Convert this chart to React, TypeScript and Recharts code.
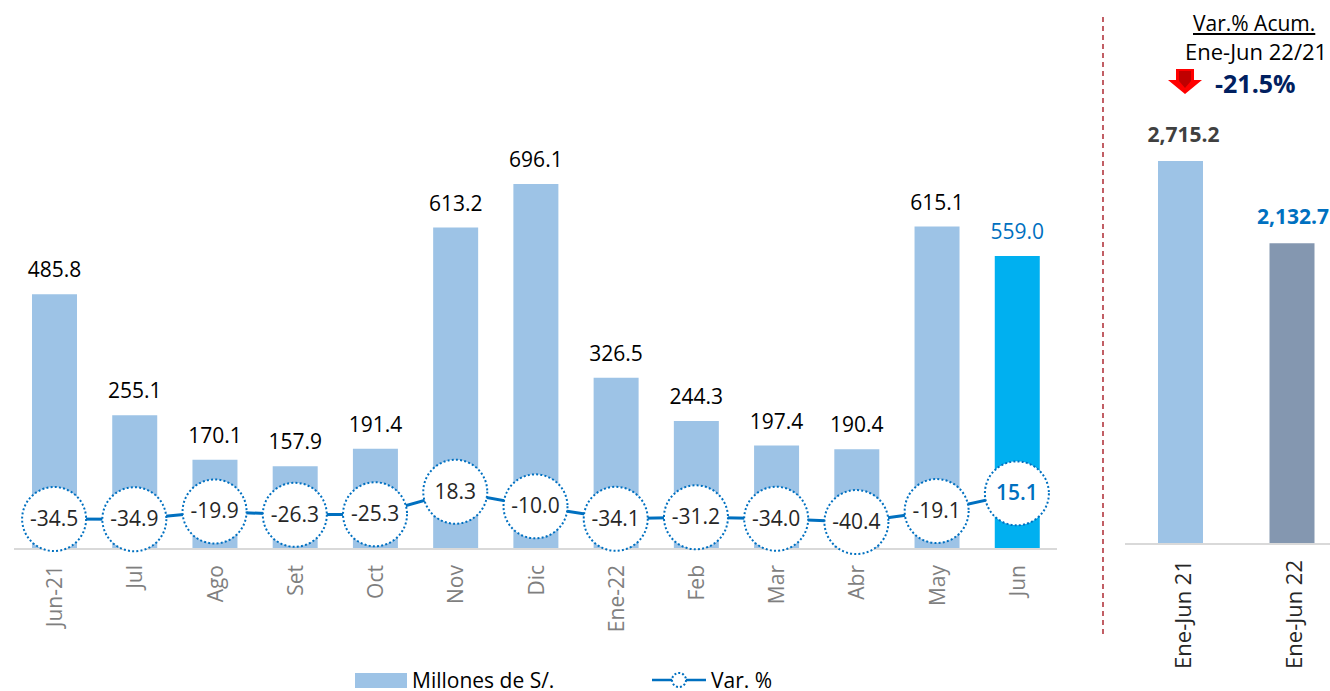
import { Bar, Cell, ComposedChart, LabelList, Legend, Line, XAxis, YAxis } from 'recharts';

const months = ['Jun-21', 'Jul', 'Ago', 'Set', 'Oct', 'Nov', 'Dic', 'Ene-22', 'Feb', 'Mar', 'Abr', 'May', 'Jun'];
const millones = [485.8, 255.1, 170.1, 157.9, 191.4, 613.2, 696.1, 326.5, 244.3, 197.4, 190.4, 615.1, 559.0];
const variacion = [-34.5, -34.9, -19.9, -26.3, -25.3, 18.3, -10.0, -34.1, -31.2, -34.0, -40.4, -19.1, 15.1];

const periodos = ['Ene-Jun 21', 'Ene-Jun 22'];
const acumulado = [2715.2, 2132.7];

const FONT = '"Open Sans", sans-serif';
const BLUE = '#0070C0';

const monthlyData = months.map((mes, i) => ({ mes, millones: millones[i], variacion: variacion[i] }));
const acumData = periodos.map((periodo, i) => ({ periodo, acumulado: acumulado[i] }));

// etiqueta vertical de los ejes
const RotatedTick = ({ x, y, payload, fill, size, shift }: any) => (
  <text
    transform={`translate(${x + shift}, ${y + 8}) rotate(-90)`}
    textAnchor="end"
    fontFamily={FONT}
    fontSize={size}
    fill={fill}
  >
    {payload.value}
  </text>
);

// punto del % con borde punteado
const DottedDot = ({ cx, cy, index }: any) => (
  <circle key={index} cx={cx} cy={cy} r={32} fill="#fff" stroke={BLUE} strokeWidth={2} strokeDasharray="2 2.2" />
);

const MonthLabel = ({ x, y, width, value, index }: any) => (
  <text
    x={x + width / 2}
    y={y - 17}
    textAnchor="middle"
    fontFamily={FONT}
    fontSize={21}
    fill={index === months.length - 1 ? BLUE : '#000'}
  >
    {Number(value).toFixed(1)}
  </text>
);

const VarLabel = ({ x, y, value, index }: any) => (
  <text
    x={x}
    y={y + 7}
    textAnchor="middle"
    fontFamily={FONT}
    fontSize={21}
    fontWeight={index === months.length - 1 ? 600 : 400}
    fill={index === months.length - 1 ? BLUE : '#262626'}
  >
    {Number(value).toFixed(1)}
  </text>
);

const AcumLabel = ({ x, y, width, value, index }: any) => (
  <text
    x={x + width / 2 + (index === 0 ? 3 : 1)}
    y={y - 19}
    textAnchor="middle"
    fontFamily={FONT}
    fontSize={21}
    fontWeight="bold"
    fill={index === 1 ? BLUE : '#404040'}
  >
    {Number(value).toLocaleString('en-US', { minimumFractionDigits: 1 })}
  </text>
);

const ChartLegend = () => (
  <div style={{ position: 'relative', height: 22, fontFamily: FONT, fontSize: 21, lineHeight: '22px', color: '#000' }}>
    <div style={{ position: 'absolute', left: 355, top: 4, width: 52, height: 15, background: '#9DC3E6' }} />
    <div style={{ position: 'absolute', left: 412, top: 0, whiteSpace: 'nowrap' }}>Millones de S/.</div>
    <svg style={{ position: 'absolute', left: 652, top: 1 }} width={56} height={20}>
      <line x1={0} x2={54} y1={10} y2={10} stroke={BLUE} strokeWidth={2.5} />
      <circle cx={27} cy={10} r={7} fill="#fff" stroke={BLUE} strokeWidth={2} strokeDasharray="2 2" />
    </svg>
    <div style={{ position: 'absolute', left: 711, top: 0, whiteSpace: 'nowrap' }}>Var. %</div>
  </div>
);

export default function App() {
  return (
    <div style={{ position: 'absolute', left: 0, top: 0, width: 1330, height: 691, overflow: 'hidden', background: '#fff' }}>
      <div style={{ position: 'absolute', left: 0, top: 0 }}>
        <ComposedChart width={1100} height={691} data={monthlyData} margin={{ top: 30, right: 43, bottom: 0, left: 14 }}>
          <XAxis
            dataKey="mes"
            interval={0}
            axisLine={{ stroke: '#D9D9D9', strokeWidth: 2 }}
            tickLine={false}
            height={120}
            tick={<RotatedTick fill="#7F7F7F" size={21} shift={8} />}
          />
          <YAxis yAxisId="left" hide domain={[0, 990]} />
          <YAxis yAxisId="right" hide domain={[-92.5, 911.4]} />
          <Bar yAxisId="left" dataKey="millones" barSize={45} fill="#9DC3E6" isAnimationActive={false}>
            {monthlyData.map((d, i) => (
              <Cell key={d.mes} fill={i === months.length - 1 ? '#00B0F0' : '#9DC3E6'} />
            ))}
            <LabelList dataKey="millones" content={<MonthLabel />} />
          </Bar>
          <Line
            yAxisId="right"
            dataKey="variacion"
            stroke={BLUE}
            strokeWidth={3}
            dot={<DottedDot />}
            isAnimationActive={false}
          >
            <LabelList dataKey="variacion" content={<VarLabel />} />
          </Line>
          <Legend
            content={<ChartLegend />}
            wrapperStyle={{ left: 0, top: 669, width: 1100 }}
          />
        </ComposedChart>
      </div>

      {/* panel acumulado */}
      <div style={{ position: 'absolute', left: 1125, top: 0 }}>
        <ComposedChart width={223} height={691} data={acumData} margin={{ top: 30, right: 0, bottom: 0, left: 0 }}>
          <XAxis
            dataKey="periodo"
            interval={0}
            axisLine={{ stroke: '#D9D9D9', strokeWidth: 2 }}
            tickLine={false}
            height={147}
            tick={<RotatedTick fill="#262626" size={22} shift={10} />}
          />
          <YAxis hide domain={[0, 3644]} />
          <Bar dataKey="acumulado" barSize={45} isAnimationActive={false}>
            <Cell fill="#9DC3E6" />
            <Cell fill="#8497B0" />
            <LabelList dataKey="acumulado" content={<AcumLabel />} />
          </Bar>
        </ComposedChart>
      </div>

      <svg style={{ position: 'absolute', left: 1100, top: 17 }} width={6} height={621}>
        <line x1={3} x2={3} y1={0} y2={621} stroke="#A81C24" strokeWidth={1.4} strokeDasharray="5 4" />
      </svg>

      <div style={{ position: 'absolute', left: 1193, top: 9, fontFamily: FONT, fontSize: 21, color: '#000', textDecoration: 'underline', whiteSpace: 'nowrap' }}>
        Var.% Acum.
      </div>
      <div style={{ position: 'absolute', left: 1185, top: 36, fontFamily: FONT, fontSize: 22, color: '#000', whiteSpace: 'nowrap' }}>
        Ene-Jun 22/21
      </div>
      <svg style={{ position: 'absolute', left: 1167, top: 68 }} width={36} height={28}>
        <polygon points="9,1 27,1 27,12 35,12 18,26 1,12 9,12" fill="#FF0000" />
        <polygon points="12,3 24,3 24,13 18,20 12,13" fill="#C00000" />
      </svg>
      <div style={{ position: 'absolute', left: 1215, top: 66, fontFamily: FONT, fontSize: 25, fontWeight: 'bold', color: '#002060', whiteSpace: 'nowrap' }}>
        -21.5%
      </div>
    </div>
  );
}
